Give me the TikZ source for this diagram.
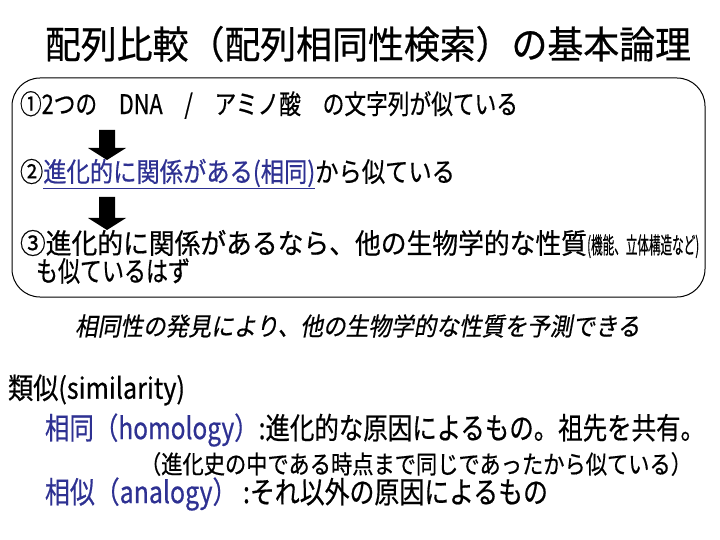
\documentclass[tikz,border=0pt]{standalone}
\usepackage{fontspec}
\usepackage{graphicx}
\setmainfont{Noto Sans CJK JP}[FakeBold=0.6]
\newfontfamily\jpit{Noto Sans CJK JP}[FakeSlant=0.2,FakeBold=0.6]
\definecolor{navy}{RGB}{46,49,146}
\newcommand{\fitw}[2]{\resizebox{#1pt}{\height}{#2}}
\newcommand{\fsz}[1]{\fontsize{#1}{#1}\selectfont}
\begin{document}
\begin{tikzpicture}[x=1pt,y=-1pt,
  txt/.style={anchor=west,inner sep=0pt,outer sep=0pt},
  blockarrow/.style={fill=black}]
\useasboundingbox (0,0) rectangle (720,540);
% title
\node[txt,font=\fsz{38}] (title) at (45,44) {\fitw{646}{配列比較（配列相同性検索）の基本論理}};
% box
\node[draw,line width=1pt,rounded corners=28pt,minimum width=693pt,minimum height=219pt,inner sep=0pt] (box) at (358.5,187.5) {};
% lines in box
\node[txt,font=\fsz{27}] (l1) at (20,105) {\fitw{498}{①2つの　DNA　/　アミノ酸　の文字列が似ている}};
\node[txt,font=\fsz{27}] (l2) at (20,174) {\fitw{435}{②\textcolor{navy}{\underline{進化的に関係がある(相同)}}から似ている}};
\node[txt,font=\fsz{28}] (l3) at (20,243) {\fitw{567}{③進化的に関係があるなら、他の生物学的な性質}};
\node[anchor=base west,inner sep=0pt,font=\fsz{23}] (l3b) at (l3.base east) {\fitw{112}{(機能、立体構造など)}};
\node[txt,font=\fsz{28}] (l4) at (36,271) {\fitw{154}{も似ているはず}};
% arrows
\coordinate (a1) at (107,130);
\coordinate (a2) at (107,197);
\fill[blockarrow] (a1) ++(-8,0) -- ++(16,0) -- ++(0,18) -- ++(11,0) -- ++(-19,12) -- ++(-19,-12) -- ++(11,0) -- cycle;
\fill[blockarrow] (a2) ++(-8,0) -- ++(16,0) -- ++(0,21) -- ++(11,0) -- ++(-19,12) -- ++(-19,-12) -- ++(11,0) -- cycle;
% italic line
\node[txt,font=\fsz{25}] (it) at (75,326) {\fitw{565}{\jpit 相同性の発見により、他の生物学的な性質を予測できる}};
% definitions
\node[txt,font=\fsz{29}] (d0) at (8,390) {\fitw{177}{類似(similarity)}};
\node[txt,font=\fsz{30}] (d1) at (45,430) {\fitw{660}{\textcolor{navy}{相同（homology）}:進化的な原因によるもの。祖先を共有。}};
\node[txt,font=\fsz{25}] (d2) at (140,464) {\fitw{552}{（進化史の中である時点まで同じであったから似ている）}};
\node[txt,font=\fsz{30}] (d3) at (45,494) {\fitw{503}{\textcolor{navy}{相似（analogy）} :それ以外の原因によるもの}};
\end{tikzpicture}
\end{document}
